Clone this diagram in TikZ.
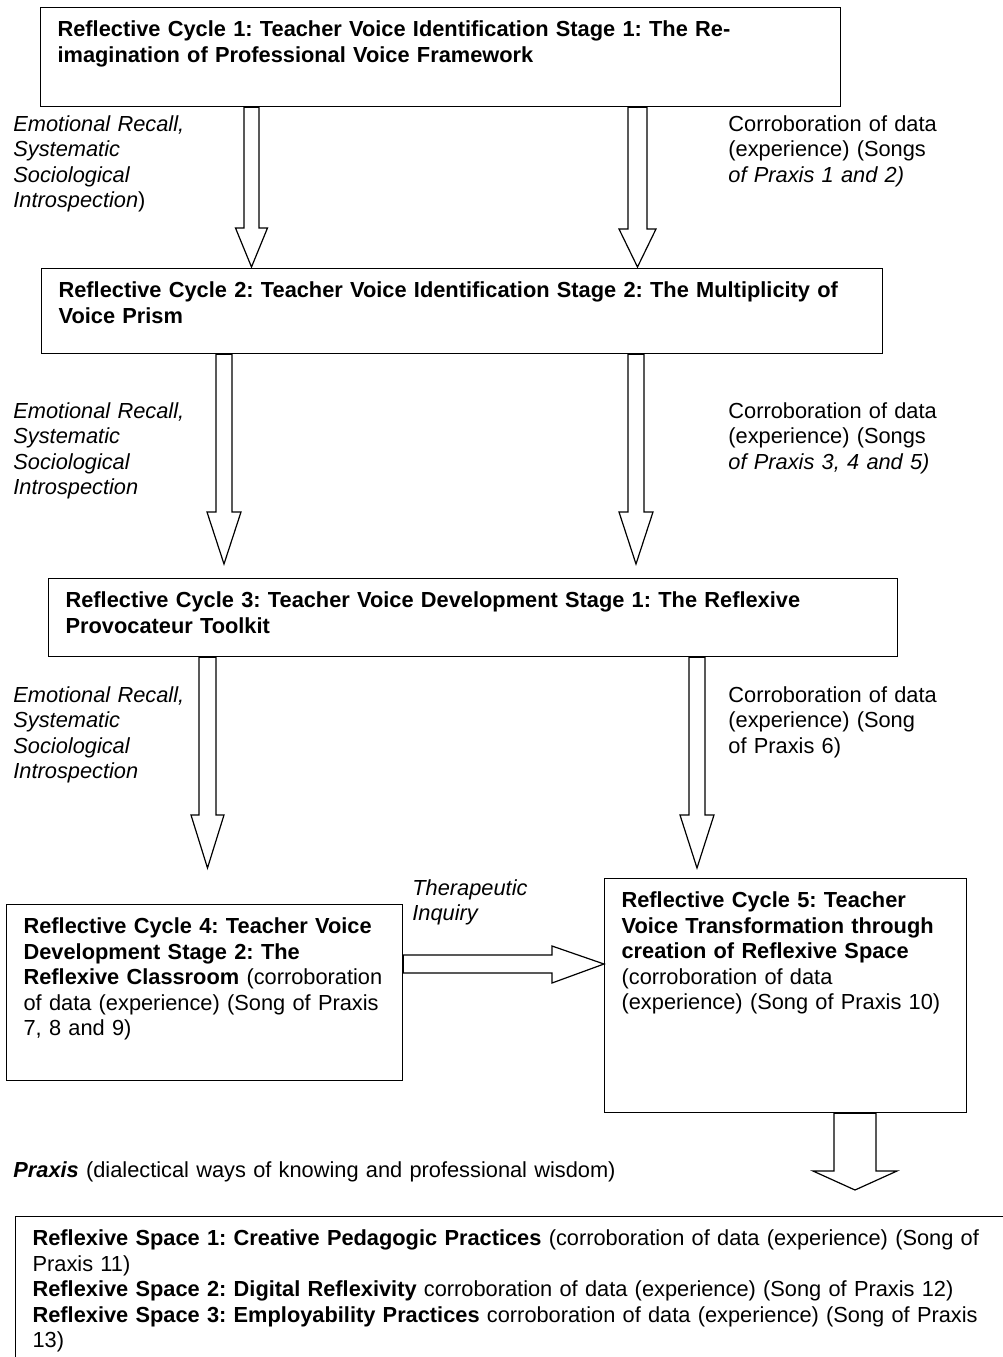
\documentclass[tikz,border=0pt]{standalone}
\usepackage{fontspec}
\setmainfont{Liberation Sans}[WordSpace={1,1,0}]
\usetikzlibrary{calc}
\hyphenpenalty=10000
\frenchspacing

% hollow block arrow pointing down from the bottom of a box
\newcommand{\blockdown}[6]{%
  \draw[hollow] (#1.south -| #2-#5,0) -- (#2-#5,#3) -- (#2-#6,#3) -- (#2,#4)
    -- (#2+#6,#3) -- (#2+#5,#3) -- (#1.south -| #2+#5,0) -- cycle;}

\begin{document}
\begin{tikzpicture}[x=0.5pt, y=-0.5pt, font=\fontsize{10.9pt}{12.75pt}\selectfont,
    box/.style 2 args={draw, line width=0.6pt, anchor=north west, align=left,
                       inner xsep=8.5pt, inner ysep=6.5pt, text width=#1,
                       text height=8pt, text depth=#2},
    lbl/.style={anchor=base west, inner sep=0pt, text width=#1, align=left},
    hollow/.style={draw, line width=0.6pt, line join=miter},
]
    \useasboundingbox (0,0) rectangle (1003,1357);
    \clip (0,0) rectangle (1003,1357);

    % cycles
    \node[box={383pt}{28.5pt}] (cycle1) at (40,7) {\bfseries Reflective Cycle 1: Teacher Voice Identification Stage 1: The Re-\\imagination of Professional Voice Framework};
    \node[box={403.5pt}{21.5pt}] (cycle2) at (41,268) {\bfseries Reflective Cycle 2: Teacher Voice Identification Stage 2: The Multiplicity of\\Voice Prism};
    \node[box={407.5pt}{18pt}] (cycle3) at (48,578) {\bfseries Reflective Cycle 3: Teacher Voice Development Stage 1: The Reflexive\\Provocateur Toolkit};
    \node[box={181pt}{67pt}] (cycle4) at (6,904) {\textbf{Reflective Cycle 4: Teacher Voice\\Development Stage 2: The\\Reflexive Classroom} (corroboration\\of data (experience) (Song of Praxis\\7, 8 and 9)};
    \node[box={164pt}{96pt}] (cycle5) at (604,878) {\textbf{Reflective Cycle 5: Teacher\\Voice Transformation through\\creation of Reflexive Space}\\(corroboration of data\\(experience) (Song of Praxis 10)};
    \node[box={483pt}{71pt}] (spaces) at (15,1216) {\textbf{Reflexive Space 1: Creative Pedagogic Practices} (corroboration of data (experience) (Song of\\Praxis 11)\\
        \textbf{Reflexive Space 2: Digital Reflexivity} corroboration of data (experience) (Song of Praxis 12)\\
        \textbf{Reflexive Space 3: Employability Practices} corroboration of data (experience) (Song of Praxis\\13)};

    % labels
    \node[lbl=110pt] (recall1) at (13,131) {{\itshape Emotional Recall,\\Systematic\\Sociological\\Introspection})};
    \node[lbl=120pt] (corrob1) at (728,131) {Corroboration of data\\(experience) (Songs\\\textit{of Praxis 1 and 2)}};
    \node[lbl=110pt] (recall2) at (13,418) {\itshape Emotional Recall,\\Systematic\\Sociological\\Introspection};
    \node[lbl=120pt] (corrob2) at (728,418) {Corroboration of data\\(experience) (Songs\\\textit{of Praxis 3, 4 and 5)}};
    \node[lbl=110pt] (recall3) at (13,702) {\itshape Emotional Recall,\\Systematic\\Sociological\\Introspection};
    \node[lbl=120pt] (corrob3) at (728,702) {Corroboration of data\\(experience) (Song\\of Praxis 6)};
    \node[lbl=80pt] (therapy) at (412,895) {\itshape Therapeutic\\Inquiry};
    \node[lbl=400pt] (praxis) at (13,1177) {\textbf{\textit{Praxis}} (dialectical ways of knowing and professional wisdom)};

    % arrows
    \blockdown{cycle1}{251.5}{228}{267}{7.5}{16}
    \blockdown{cycle1}{637.5}{229}{267}{9.5}{18.5}
    \blockdown{cycle2}{224}{512}{564}{8}{17}
    \blockdown{cycle2}{636}{512}{564}{8}{17}
    \blockdown{cycle3}{207.5}{815}{868}{8.5}{16.5}
    \blockdown{cycle3}{697}{815}{868}{8}{17}
    \draw[hollow] (cycle4.east |- 0,955) -- (552,955) -- (552,946) -- (cycle5.west |- 0,964)
        -- (552,983) -- (552,973) -- (cycle4.east |- 0,973) -- cycle;
    \blockdown{cycle5}{855}{1171}{1190}{21}{42}
\end{tikzpicture}
\end{document}
